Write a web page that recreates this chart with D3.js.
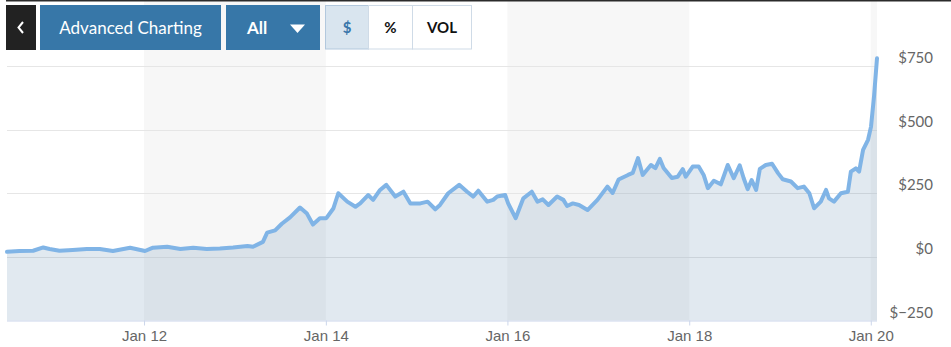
<!DOCTYPE html>
<html>
<head>
  <title>Price chart</title>
  <script src="https://d3js.org/d3.v7.min.js"></script>
  <style>
    body { margin: 0; background: #fff; }
    svg { display: block; font-family: Lato, "Open Sans", sans-serif; }
    .axis-label { fill: #666; font-size: 15px; }
    .grid line { stroke: #e6e6e6; }
  </style>
</head>
<body>
  <svg id="chart" width="951" height="347"></svg>

  <script>
    // closing prices (date, dollars)
    const dates = [
      "2010-06-29","2010-08-18","2010-10-12","2010-11-22","2010-12-17","2011-01-26","2011-03-20","2011-05-16",
      "2011-07-07","2011-08-29","2011-11-06","2012-01-05","2012-02-06","2012-04-03","2012-05-26","2012-07-17",
      "2012-09-09","2012-11-01","2012-12-24","2013-02-20","2013-03-14","2013-04-23","2013-05-10","2013-06-11",
      "2013-07-08","2013-08-10","2013-09-19","2013-10-17","2013-11-10","2013-12-08","2014-01-03","2014-01-31",
      "2014-02-20","2014-03-28","2014-04-30","2014-05-19","2014-06-20","2014-07-10","2014-08-07","2014-09-01",
      "2014-10-07","2014-11-09","2014-12-07","2015-01-16","2015-02-14","2015-03-17","2015-04-05","2015-05-08",
      "2015-06-21","2015-07-23","2015-08-17","2015-09-06","2015-10-12","2015-11-05","2015-11-21","2015-12-23",
      "2016-01-04","2016-02-03","2016-03-05","2016-04-08","2016-05-01","2016-05-22","2016-06-14","2016-07-19",
      "2016-08-13","2016-08-28","2016-09-20","2016-10-15","2016-11-18","2016-12-28","2017-02-06","2017-02-27",
      "2017-03-23","2017-04-30","2017-05-19","2017-06-09","2017-06-28","2017-07-31","2017-08-18","2017-09-05",
      "2017-09-20","2017-10-23","2017-11-16","2017-12-06","2017-12-18","2018-01-15","2018-02-08","2018-02-28",
      "2018-03-17","2018-04-10","2018-05-08","2018-06-05","2018-06-29","2018-07-23","2018-08-08","2018-08-24",
      "2018-09-09","2018-09-27","2018-10-12","2018-11-05","2018-11-30","2018-12-24","2019-01-12","2019-02-14",
      "2019-03-13","2019-04-07","2019-04-29","2019-05-18","2019-06-14","2019-07-05","2019-07-17","2019-08-06",
      "2019-09-03","2019-10-01","2019-10-13","2019-11-02","2019-11-15","2019-12-01","2019-12-21","2020-01-02",
      "2020-01-14","2020-01-26"
    ];
    const prices = [
      20, 23, 24, 37, 31, 24, 27, 31,
      31, 23, 36, 23, 36, 40, 31, 36,
      31, 33, 37, 43, 40, 59, 95, 104,
      130, 155, 194, 170, 127, 152, 152, 190,
      250, 217, 197, 210, 243, 224, 263, 283,
      237, 256, 210, 210, 217, 187, 204, 250,
      283, 256, 237, 260, 217, 224, 237, 243,
      210, 152, 230, 256, 217, 226, 204, 237,
      224, 200, 210, 204, 184, 224, 276, 251,
      304, 322, 330, 388, 322, 361, 349, 385,
      349, 310, 315, 345, 315, 355, 355, 322,
      270, 299, 285, 361, 309, 360, 309, 266,
      302, 263, 346, 361, 366, 329, 305, 296,
      270, 276, 250, 191, 217, 263, 230, 217,
      250, 256, 335, 348, 335, 420, 460, 512,
      630, 780
    ];

    // axis ticks
    const yTicks = [-250, 0, 250, 500, 750];
    const xTickDates = ["2012-01-01", "2014-01-01", "2016-01-01", "2018-01-01", "2020-01-01"];

    // toolbar buttons
    const toggleLabels = ["$", "%", "VOL"];

    const parse = d3.timeParse("%Y-%m-%d");
    const data = dates.map((d, i) => ({ date: parse(d), value: prices[i] }));
    const tickDates = xTickDates.map(parse);

    const svg = d3.select("#chart");
    const plot = { left: 7, right: 877, top: 1, bottom: 320.5 };

    const x = d3.scaleTime()
      .domain(d3.extent(data, d => d.date))
      .range([plot.left, plot.right]);

    const y = d3.scaleLinear()
      .domain([-250, 750])
      .range([plot.bottom, 66]);

    // alternating background bands, every other 2-year span
    const bandEdges = tickDates.concat([x.domain()[1]]);
    const bands = [];
    for (let i = 0; i < bandEdges.length - 1; i += 2) {
      bands.push([bandEdges[i], bandEdges[i + 1]]);
    }
    svg.append("g").selectAll("rect")
      .data(bands)
      .enter().append("rect")
      .attr("x", d => x(d[0]))
      .attr("width", d => x(d[1]) - x(d[0]))
      .attr("y", plot.top)
      .attr("height", plot.bottom - plot.top)
      .attr("fill", "#f7f7f7");

    // horizontal grid lines
    svg.append("g").attr("class", "grid")
      .selectAll("line")
      .data(yTicks.filter(t => t > -250))
      .enter().append("line")
      .attr("x1", plot.left)
      .attr("x2", plot.right)
      .attr("y1", d => Math.round(y(d)) + 0.5)
      .attr("y2", d => Math.round(y(d)) + 0.5);

    // area under the line
    const area = d3.area()
      .x(d => x(d.date))
      .y0(y(-250))
      .y1(d => y(d.value));

    svg.append("path")
      .datum(data)
      .attr("d", area)
      .attr("fill", "rgba(40,100,150,0.14)");

    // price line
    const line = d3.line()
      .x(d => x(d.date))
      .y(d => y(d.value));

    svg.append("path")
      .datum(data)
      .attr("d", line)
      .attr("fill", "none")
      .attr("stroke", "#80b4e6")
      .attr("stroke-width", 4)
      .attr("stroke-linejoin", "round")
      .attr("stroke-linecap", "round");

    // x axis
    const xAxis = d3.axisBottom(x)
      .tickValues(tickDates)
      .tickFormat(d3.timeFormat("Jan %y"))
      .tickSize(5)
      .tickPadding(5);

    const gx = svg.append("g")
      .attr("transform", `translate(0,${plot.bottom})`)
      .call(xAxis);
    gx.select(".domain").attr("stroke", "#ccd6eb").attr("d", `M${plot.left},0.5H${plot.right}`);
    gx.selectAll(".tick line").attr("stroke", "#ccd6eb");
    gx.selectAll(".tick text")
      .attr("class", "axis-label")
      .attr("font-family", null)
      .attr("font-size", null)
      .attr("fill", null);

    // y axis labels, right aligned, sitting above each grid line
    svg.append("g").selectAll("text")
      .data(yTicks)
      .enter().append("text")
      .attr("class", "axis-label")
      .attr("x", 933)
      .attr("y", d => y(d) - 3)
      .attr("text-anchor", "end")
      .text(d => "$" + (d < 0 ? "\u2212" + Math.abs(d) : d));

    // toolbar
    svg.append("rect").attr("x", 6).attr("y", 0).attr("width", 945).attr("height", 1.5).attr("fill", "#2b2b2b");

    svg.append("rect").attr("x", 6).attr("y", 5).attr("width", 30).attr("height", 45).attr("fill", "#222");
    svg.append("path").attr("d", "M23,22L18.5,27.5L23,33")
      .attr("fill", "none").attr("stroke", "#fff").attr("stroke-width", 2);

    svg.append("rect").attr("x", 40).attr("y", 5).attr("width", 181).attr("height", 45).attr("fill", "#3777a8");
    svg.append("text").attr("x", 130.5).attr("y", 33.5).attr("text-anchor", "middle")
      .attr("fill", "#fff").attr("font-size", 17).text("Advanced Charting");

    svg.append("rect").attr("x", 226).attr("y", 5).attr("width", 94).attr("height", 45).attr("fill", "#3777a8");
    svg.append("text").attr("x", 247).attr("y", 33.5)
      .attr("fill", "#fff").attr("font-size", 17).attr("font-weight", "bold").text("All");
    svg.append("path").attr("d", "M290,24.5H305L297.5,33Z").attr("fill", "#fff");

    const toggleX = [325.5, 368.5, 412.5, 471.5];
    const toggles = svg.append("g").selectAll("g")
      .data(toggleLabels)
      .enter().append("g");
    toggles.append("rect")
      .attr("x", (d, i) => toggleX[i])
      .attr("y", 5.5)
      .attr("width", (d, i) => toggleX[i + 1] - toggleX[i])
      .attr("height", 43.5)
      .attr("fill", (d, i) => i === 0 ? "#d9e5ef" : "#fff")
      .attr("stroke", (d, i) => i === 0 ? "#b2c8dd" : "#cfdbe7");
    toggles.append("text")
      .attr("x", (d, i) => (toggleX[i] + toggleX[i + 1]) / 2)
      .attr("y", 33)
      .attr("text-anchor", "middle")
      .attr("font-size", 15)
      .attr("font-weight", "bold")
      .attr("fill", (d, i) => i === 0 ? "#3a76aa" : "#111")
      .text(d => d);
  </script>
</body>
</html>
